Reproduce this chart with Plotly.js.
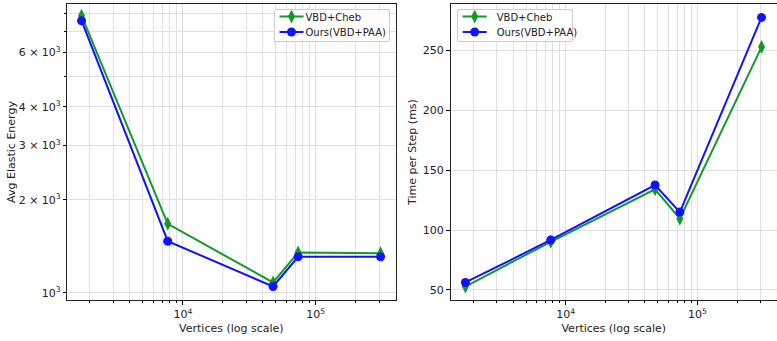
<!DOCTYPE html>
<html>
<head>
<meta charset="utf-8">
<script src="https://cdn.plot.ly/plotly-3.0.1.min.js"></script>
<style>html,body{margin:0;padding:0;background:#fff}#chart{width:777px;height:341px}</style>
</head>
<body>
<div id="chart"></div>
<script>
// Data
const vertices = [1730, 7700, 47700, 73600, 307000];
const energyCheb = [7890, 1672, 1080, 1350, 1344];
const energyOurs = [7600, 1469, 1048, 1308, 1308];
const timeCheb = [52.8, 90.2, 134.0, 109.5, 252.8];
const timeOurs = [56.2, 91.7, 137.6, 115.0, 277.6];
const seriesNames = ["VBD+Cheb", "Ours(VBD+PAA)"];
const energyTickVals = [1000, 2000, 3000, 4000, 6000];
const energyTickText = ["10<sup>3</sup>", "2 × 10<sup>3</sup>", "3 × 10<sup>3</sup>", "4 × 10<sup>3</sup>", "6 × 10<sup>3</sup>"];
const energyMinorVals = [5000, 7000, 8000];
const xTickVals = [1e4, 1e5];
const xTickText = ["10<sup>4</sup>", "10<sup>5</sup>"];
const xMinorVals = [2e3,3e3,4e3,5e3,6e3,7e3,8e3,9e3,2e4,3e4,4e4,5e4,6e4,7e4,8e4,9e4,2e5,3e5];
const timeTickVals = [50, 100, 150, 200, 250];

const green = "#12992a";
const blue = "#1212ff";
const font = "DejaVu Sans, sans-serif";
const grid = "#e0e0e0";

function mk(x, y, name, color, symbol, size, xa, ya, legend) {
  return {x, y, name, type: "scatter", mode: "lines+markers",
    xaxis: xa, yaxis: ya, legend,
    line: {color, width: 2},
    marker: {color, symbol, size, line: {width: 0}},
    showlegend: true};
}

const traces = [
  mk(vertices, energyCheb, seriesNames[0], green, "diamond-tall", 10, "x", "y", "legend"),
  mk(vertices, energyOurs, seriesNames[1], blue, "circle", 9, "x", "y", "legend"),
  mk(vertices, timeCheb, seriesNames[0], green, "diamond-tall", 10, "x2", "y2", "legend2"),
  mk(vertices, timeOurs, seriesNames[1], blue, "circle", 9, "x2", "y2", "legend2")
];

function xaxis(domain, anchor) {
  return {domain, anchor, type: "log", range: [3.1286, 5.601],
    tickmode: "array", tickvals: xTickVals, ticktext: xTickText,
    ticks: "outside", ticklen: 4, tickwidth: 1, tickcolor: "#000",
    showline: true, mirror: true, linecolor: "#222", linewidth: 1,
    showgrid: true, gridcolor: grid, gridwidth: 1, zeroline: false,
    minor: {tickmode: "array", tickvals: xMinorVals, ticks: "outside", ticklen: 2, tickcolor: "#000", showgrid: true, gridcolor: grid, gridwidth: 1},
    tickfont: {family: font, size: 11, color: "#222"},
    title: {text: "Vertices (log scale)", font: {family: font, size: 11, color: "#222"}, standoff: 4}};
}

const layout = {
  width: 777, height: 341,
  margin: {l: 0, r: 0, t: 0, b: 0},
  paper_bgcolor: "#fff", plot_bgcolor: "#fff",
  font: {family: font, size: 11, color: "#222"},
  xaxis: xaxis([0.0862, 0.5093], "y"),
  xaxis2: xaxis([0.5804, 0.9994], "y2"),
  yaxis: {domain: [0.1202, 0.9883], anchor: "x", type: "log", range: [2.9766, 3.935],
    tickmode: "array", tickvals: energyTickVals, ticktext: energyTickText,
    ticks: "outside", ticklen: 3, tickcolor: "#000",
    showline: true, mirror: true, linecolor: "#222", linewidth: 1,
    showgrid: true, gridcolor: grid, zeroline: false,
    minor: {tickmode: "array", tickvals: energyMinorVals, ticks: "outside", ticklen: 2, tickcolor: "#000", showgrid: true, gridcolor: grid},
    tickfont: {family: font, size: 11, color: "#222"},
    title: {text: "Avg Elastic Energy", font: {family: font, size: 11, color: "#222"}, standoff: 0}},
  yaxis2: {domain: [0.1202, 0.9883], anchor: "x2", type: "linear", range: [41.56, 288.8],
    tickmode: "array", tickvals: timeTickVals,
    ticks: "outside", ticklen: 4, tickcolor: "#000",
    showline: true, mirror: true, linecolor: "#222", linewidth: 1,
    showgrid: true, gridcolor: grid, zeroline: false,
    tickfont: {family: font, size: 11, color: "#222"},
    title: {text: "Time per Step (ms)", font: {family: font, size: 11, color: "#222"}, standoff: 3}},
  legend: {x: 0.501, y: 0.9727, xanchor: "right", yanchor: "top",
    bgcolor: "rgba(255,255,255,0.85)", bordercolor: "#cccccc", borderwidth: 1,
    font: {family: font, size: 10, color: "#222"}, tracegroupgap: 0, itemwidth: 30},
  legend2: {x: 0.5878, y: 0.9727, xanchor: "left", yanchor: "top",
    bgcolor: "rgba(255,255,255,0.85)", bordercolor: "#cccccc", borderwidth: 1,
    font: {family: font, size: 10, color: "#222"}, tracegroupgap: 0, itemwidth: 30}
};

// compact legend boxes (matplotlib-like spacing)
const legendBoxes = {legend: {left: 273.5, top: 9.3}, legend2: {left: 456.7, top: 9.3}};
function compactLegends() {
  Object.keys(legendBoxes).forEach(cls => {
    const leg = document.querySelector("g." + cls);
    if (!leg) return;
    const box = legendBoxes[cls];
    leg.setAttribute("transform", `translate(${box.left},${box.top})`);
    const items = leg.querySelectorAll("g.traces");
    items.forEach((t, i) => {
      t.setAttribute("transform", `translate(0,${7.3 + 15.4 * i})`);
      t.querySelectorAll("g.legendlines path").forEach(p => p.setAttribute("d", "M6,0h24"));
      t.querySelectorAll("g.legendpoints path").forEach(p => p.setAttribute("transform", "translate(18,0)"));
      t.querySelectorAll("text.legendtext").forEach(tx => {
        tx.setAttribute("x", "32");
        tx.querySelectorAll("tspan").forEach(s => { if (s.hasAttribute("x")) s.setAttribute("x", "32"); });
      });
    });
    const bg = leg.querySelector("rect.bg");
    if (bg) {
      bg.setAttribute("width", "115.5");
      bg.setAttribute("height", "31.7");
      bg.setAttribute("rx", "2"); bg.setAttribute("ry", "2");
    }
  });
}

Plotly.newPlot("chart", traces, layout, {staticPlot: true, displayModeBar: false}).then(compactLegends);
</script>
</body>
</html>
